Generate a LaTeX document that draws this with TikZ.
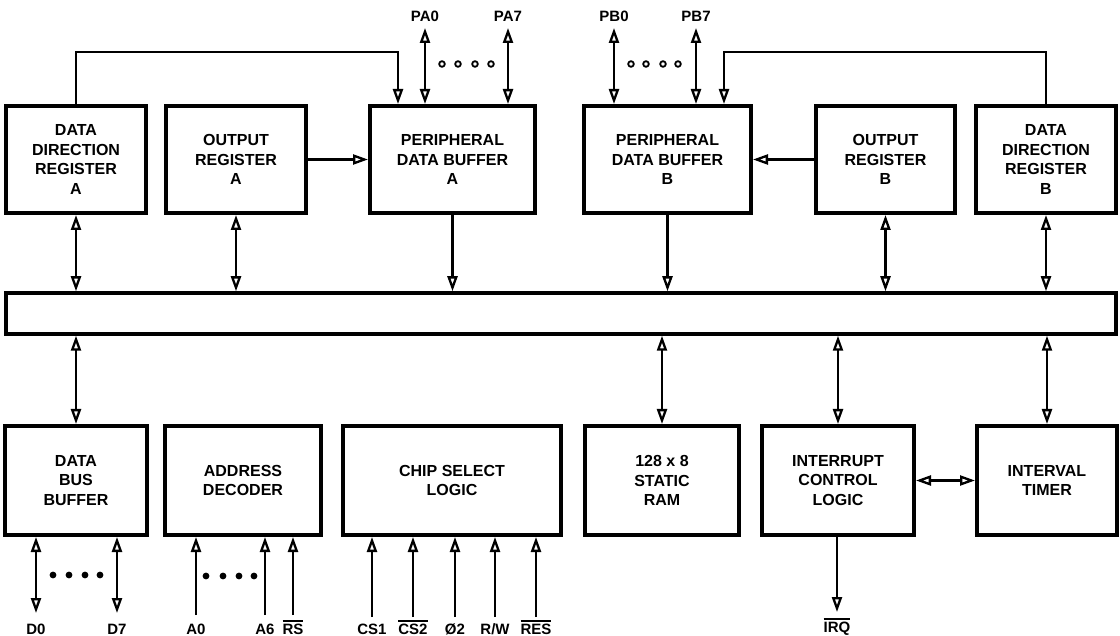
\documentclass[tikz,border=0pt]{standalone}
\usepackage{fontspec}
\setmainfont{Liberation Sans}
\usetikzlibrary{arrows.meta,calc}
\newcommand\ovl[1]{\setbox0\hbox{#1}\rlap{\rule[\dimexpr\ht0+2pt\relax]{\wd0}{1.3pt}}\box0}
\begin{document}
\begin{tikzpicture}[x=1pt,y=-1pt,
  >={Triangle[open,length=15pt,width=10pt]},
  blk/.style={draw,line width=4pt,rectangle,align=center,inner sep=0pt,
    font=\fontsize{16}{19.5}\selectfont\bfseries},
  busbox/.style={draw,line width=3.5pt,rectangle,inner sep=0pt},
  lbl/.style={font=\fontsize{15}{18}\selectfont\bfseries,inner sep=0pt,anchor=base},
  conn/.style={line width=2.3pt},
  odot/.style={line width=1.8pt},
  fdot/.style={fill=black}]
\useasboundingbox (0,0) rectangle (1120,636);
% top row
\node[blk,minimum width=140pt,minimum height=107pt] (ddrA) at (76,159.5) {DATA\\DIRECTION\\REGISTER\\A};
\node[blk,minimum width=140pt,minimum height=107pt] (orA) at (236,159.5) {OUTPUT\\REGISTER\\A};
\node[blk,minimum width=165pt,minimum height=107pt] (pdbA) at (452.5,159.5) {PERIPHERAL\\DATA BUFFER\\A};
\node[blk,minimum width=167pt,minimum height=107pt] (pdbB) at (667.5,159.5) {PERIPHERAL\\DATA BUFFER\\B};
\node[blk,minimum width=139pt,minimum height=107pt] (orB) at (885.5,159.5) {OUTPUT\\REGISTER\\B};
\node[blk,minimum width=140pt,minimum height=107pt] (ddrB) at (1046,159.5) {DATA\\DIRECTION\\REGISTER\\B};
% bus
\node[busbox,minimum width=1110pt,minimum height=41pt] (bus) at (561,313.5) {};
% bottom row
\node[blk,minimum width=142pt,minimum height=109pt] (dbb) at (76,480.5) {DATA\\BUS\\BUFFER};
\node[blk,minimum width=156pt,minimum height=109pt] (ad) at (243,480.5) {ADDRESS\\DECODER};
\node[blk,minimum width=218pt,minimum height=109pt] (csl) at (452,480.5) {CHIP SELECT\\LOGIC};
\node[blk,minimum width=154pt,minimum height=109pt] (ram) at (662,480.5) {128 x 8\\STATIC\\RAM};
\node[blk,minimum width=152pt,minimum height=109pt] (icl) at (838,480.5) {INTERRUPT\\CONTROL\\LOGIC};
\node[blk,minimum width=140pt,minimum height=109pt] (it) at (1047,480.5) {INTERVAL\\TIMER};
% top labels
\node[lbl] (pa0) at (425,22) {PA0};
\node[lbl] (pa7) at (508,22) {PA7};
\node[lbl] (pb0) at (614,22) {PB0};
\node[lbl] (pb7) at (696,22) {PB7};
% bottom labels
\node[lbl] (d0) at (36,634) {D0};
\node[lbl] (d7) at (117,634) {D7};
\node[lbl] (a0) at (196,634) {A0};
\node[lbl] (a6) at (265,634) {A6};
\node[lbl] (rs) at (293,634) {\ovl{RS}};
\node[lbl] (cs1) at (372,634) {CS1};
\node[lbl] (cs2) at (413,634) {\ovl{CS2}};
\node[lbl] (phi) at (455,634) {Ø2};
\node[lbl] (rw) at (495,634) {R/W};
\node[lbl] (res) at (536,634) {\ovl{RES}};
\node[lbl] (irq) at (837,632) {\ovl{IRQ}};
% DDR -> PDB control lines
\coordinate (ka) at (398,52);
\coordinate (kb) at (724,52);
\draw[conn,->] (ddrA.north) |- (ka) -- (ka |- pdbA.north);
\draw[conn,->] (ddrB.north) |- (kb) -- (kb |- pdbB.north);
% port lines
\draw[conn,<->] ([yshift=-6pt]pa0.base) -- (pa0.base |- pdbA.north);
\draw[conn,<->] ([yshift=-6pt]pa7.base) -- (pa7.base |- pdbA.north);
\draw[conn,<->] ([yshift=-6pt]pb0.base) -- (pb0.base |- pdbB.north);
\draw[conn,<->] ([yshift=-6pt]pb7.base) -- (pb7.base |- pdbB.north);
\foreach \x in {442,458,475,491,631,646,663,678}
  \draw[odot] (\x,64) circle (2.8pt);
% output registers -> PDB
\draw[conn,->] (orA.east) -- (pdbA.west);
\draw[conn,->] (orB.west) -- (pdbB.east);
% top row <-> bus
\draw[conn,<->] (ddrA.south) -- (ddrA.south |- bus.north);
\draw[conn,<->] (orA.south) -- (orA.south |- bus.north);
\draw[conn,->] (pdbA.south) -- (pdbA.south |- bus.north);
\draw[conn,->] (pdbB.south) -- (pdbB.south |- bus.north);
\draw[conn,<->] (orB.south) -- (orB.south |- bus.north);
\draw[conn,<->] (ddrB.south) -- (ddrB.south |- bus.north);
% bus <-> bottom row
\draw[conn,<->] (dbb.north |- bus.south) -- (dbb.north);
\draw[conn,<->] (ram.north |- bus.south) -- (ram.north);
\draw[conn,<->] (icl.north |- bus.south) -- (icl.north);
\draw[conn,<->] (it.north |- bus.south) -- (it.north);
\draw[conn,<->] (icl.east) -- (it.west);
% bottom pins
\draw[conn,<->] (dbb.south -| d0.base) -- ([yshift=21pt]d0.base);
\draw[conn,<->] (dbb.south -| d7.base) -- ([yshift=21pt]d7.base);
\foreach \x in {53,69,85,100}
  \fill[fdot] (\x,575) circle (3.4pt);
\draw[conn,->] ([yshift=19pt]a0.base) -- (ad.south -| a0.base);
\draw[conn,->] ([yshift=19pt]a6.base) -- (ad.south -| a6.base);
\draw[conn,->] ([yshift=19pt]rs.base) -- (ad.south -| rs.base);
\foreach \x in {206,223,239,254}
  \fill[fdot] (\x,576) circle (3.4pt);
\foreach \n in {cs1,cs2,phi,rw,res}
  \draw[conn,->] ([yshift=17pt]\n.base) -- (csl.south -| \n.base);
\draw[conn,->] (icl.south -| irq.base) -- ([yshift=20pt]irq.base);
\end{tikzpicture}
\end{document}
